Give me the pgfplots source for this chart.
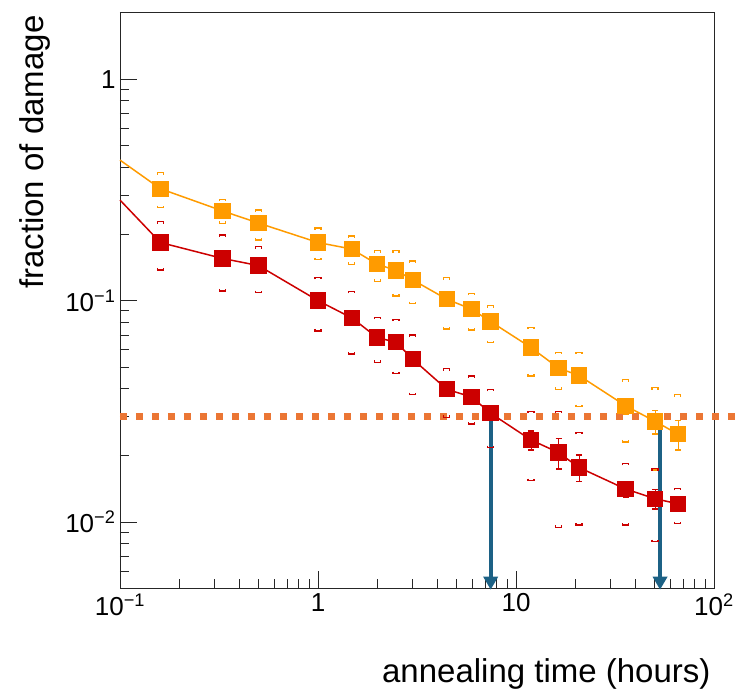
\documentclass[border=0pt]{standalone}
\usepackage{fontspec}
\setmainfont{Liberation Sans}
\usepackage{pgfplots}
\usepackage{pgfplotstable}
\pgfplotsset{compat=1.18}
\usetikzlibrary{arrows.meta,calc}
\definecolor{cOr}{RGB}{255,155,0}
\definecolor{cRed}{RGB}{204,0,0}
\definecolor{cDot}{RGB}{235,118,52}
\definecolor{cArr}{RGB}{28,97,133}

\pgfdeclareplotmark{bu}{\pgfpathmoveto{\pgfqpoint{-3pt}{-2pt}}\pgfpathlineto{\pgfqpoint{-3pt}{0pt}}\pgfpathlineto{\pgfqpoint{3pt}{0pt}}\pgfpathlineto{\pgfqpoint{3pt}{-2pt}}\pgfusepathqstroke}
\pgfdeclareplotmark{bd}{\pgfpathmoveto{\pgfqpoint{-3pt}{2pt}}\pgfpathlineto{\pgfqpoint{-3pt}{0pt}}\pgfpathlineto{\pgfqpoint{3pt}{0pt}}\pgfpathlineto{\pgfqpoint{3pt}{2pt}}\pgfusepathqstroke}

% orange series: x, y, error
\pgfplotstableread{
x y e
0.16 0.320 0.008
0.33 0.254 0.006
0.50 0.224 0.005
1.00 0.183 0.004
1.48 0.171 0.004
1.99 0.146 0.003
2.48 0.137 0.003
3.01 0.124 0.003
4.47 0.1015 0.0025
5.97 0.0915 0.0025
7.45 0.0804 0.002
11.9 0.0614 0.0018
16.4 0.0496 0.0015
20.8 0.0459 0.0018
35.8 0.0335 0.0027
50.4 0.0285 0.0035
65.6 0.0250 0.0038
}\orangedata
\pgfplotstableread{
x y e
0.16 0.183 0.004
0.33 0.155 0.006
0.50 0.144 0.004
1.00 0.100 0.003
1.49 0.0833 0.003
1.99 0.0681 0.002
2.48 0.0649 0.002
3.01 0.0544 0.002
4.47 0.0398 0.0015
5.97 0.0367 0.0015
7.45 0.0310 0.0015
11.9 0.0235 0.0023
16.4 0.0206 0.0032
20.8 0.01765 0.0024
35.8 0.0141 0.0012
50.4 0.01275 0.0013
65.6 0.0121 0.0005
}\reddata
% systematic brackets: x, upper, lower
\pgfplotstableread{
x u l
0.16 0.378 0.263
0.33 0.287 0.223
0.50 0.2565 0.188
1.00 0.213 0.153
1.48 0.196 0.146
1.99 0.168 0.122
2.48 0.168 0.105
3.01 0.151 0.097
4.47 0.127 0.0745
5.97 0.108 0.0738
7.45 0.0949 0.0646
11.9 0.0759 0.0457
16.4 0.0585 0.0398
20.8 0.0585 0.0332
35.8 0.0439 0.0230
50.4 0.0404 0.0172
65.6 0.0376 nan
}\orangesys
\pgfplotstableread{
x u l
0.16 0.227 0.1375
0.33 0.198 0.1106
0.50 0.175 0.1087
1.00 0.1275 0.073
1.48 0.110 0.0575
1.99 0.0842 0.0527
2.48 0.0824 0.0468
3.01 0.0699 0.0376
4.47 0.0493 0.0297
5.97 0.0457 0.0277
7.45 0.0398 0.0217
11.9 0.0316 0.0154
16.4 0.0316 0.00946
20.8 0.0254 0.0097
35.8 0.0184 0.0097
50.4 0.0174 0.00816
65.6 0.0142 0.00984
}\redsys

\begin{document}
\begin{tikzpicture}
\begin{axis}[
  at={(0,0)}, anchor=south west,
  scale only axis, width=594pt, height=576pt,
  xmode=log, ymode=log,
  xmin=0.1, xmax=100, ymin=0.00504, ymax=2.01,
  axis line style={line width=0.8pt, black!85},
  tick align=inside, tick pos=left,
  major tick length=17pt, minor tick length=9pt,
  tick style={line width=0.8pt, black!85},
  xtick={0.1,1,10,100},
  xticklabels={10\textsuperscript{−1},1,10,10\textsuperscript{2}},
  minor xtick={0.2,0.3,0.4,0.5,0.6,0.7,0.8,0.9,2,3,4,5,6,7,8,9,20,30,40,50,60,70,80,90},
  ytick={0.01,0.1,1},
  yticklabels={10\textsuperscript{−2},10\textsuperscript{−1},1},
  minor ytick={0.006,0.007,0.008,0.009,0.02,0.03,0.04,0.05,0.06,0.07,0.08,0.09,0.2,0.3,0.4,0.5,0.6,0.7,0.8,0.9,2},
  ticklabel style={font=\fontsize{26}{26}\selectfont},
  xticklabel style={yshift=-2pt},
  yticklabel style={xshift=-1pt},
  xlabel={annealing time (hours)},
  ylabel={fraction of damage},
  label style={font=\fontsize{33}{33}\selectfont},
  xlabel style={at={(rel axis cs:1,-0.1649)}, anchor=base east},
  ylabel style={at={(rel axis cs:-0.1296,1)}, anchor=base east, rotate=0},
  clip=false,
]
\coordinate (bl) at (rel axis cs:0,0);
% threshold line
\addplot[cDot, line width=7pt, dash pattern=on 7pt off 9pt] coordinates {(0.1,0.03) (127,0.03)};
% connecting lines
\addplot[cOr, line width=1.5pt] coordinates {(0.1,0.431) (0.16,0.320) (0.33,0.254) (0.50,0.224) (1.00,0.183) (1.48,0.171) (1.99,0.146) (2.48,0.137) (3.01,0.124) (4.47,0.1015) (5.97,0.0915) (7.45,0.0804) (11.9,0.0614) (16.4,0.0496) (20.8,0.0459) (35.8,0.0335) (50.4,0.0285) (65.6,0.0250)};
\addplot[cRed, line width=1.5pt] coordinates {(0.1,0.2845) (0.16,0.183) (0.33,0.155) (0.50,0.144) (1.00,0.100) (1.49,0.0833) (1.99,0.0681) (2.48,0.0649) (3.01,0.0544) (4.47,0.0398) (5.97,0.0367) (7.45,0.0310) (11.9,0.0235) (16.4,0.0206) (20.8,0.01765) (35.8,0.0141) (50.4,0.01275) (65.6,0.0121)};
% systematic brackets
\addplot[cOr, only marks, mark=bu, mark options={line width=1.3pt}] table[x=x,y=u] {\orangesys};
\addplot[cOr, only marks, mark=bd, mark options={line width=1.3pt}] table[x=x,y=l] {\orangesys};
\addplot[cRed, only marks, mark=bu, mark options={line width=1.3pt}] table[x=x,y=u] {\redsys};
\addplot[cRed, only marks, mark=bd, mark options={line width=1.3pt}] table[x=x,y=l] {\redsys};
% data points
\addplot[cOr, only marks, mark=square*, mark size=7.5pt, line width=1.4pt,
  error bars/.cd, y dir=both, y explicit, error mark options={rotate=90, mark size=3pt, line width=1.4pt}]
  table[x=x,y=y,y error=e] {\orangedata};
\addplot[cRed, only marks, mark=square*, mark size=7.5pt, line width=1.4pt,
  error bars/.cd, y dir=both, y explicit, error mark options={rotate=90, mark size=3pt, line width=1.4pt}]
  table[x=x,y=y,y error=e] {\reddata};
% arrows
\addplot[cArr, line width=3.8pt, -{Triangle[width=14pt,length=13pt]}] coordinates {(7.45,0.03) (7.45,0.00495)};
\addplot[cArr, line width=3.8pt, -{Triangle[width=14pt,length=13pt]}] coordinates {(53.4,0.03) (53.4,0.00495)};
\end{axis}
\pgfresetboundingbox
\path[use as bounding box] ($(bl)+(-120pt,-104pt)$) rectangle ($(bl)+(615pt,588pt)$);
\end{tikzpicture}
\end{document}
